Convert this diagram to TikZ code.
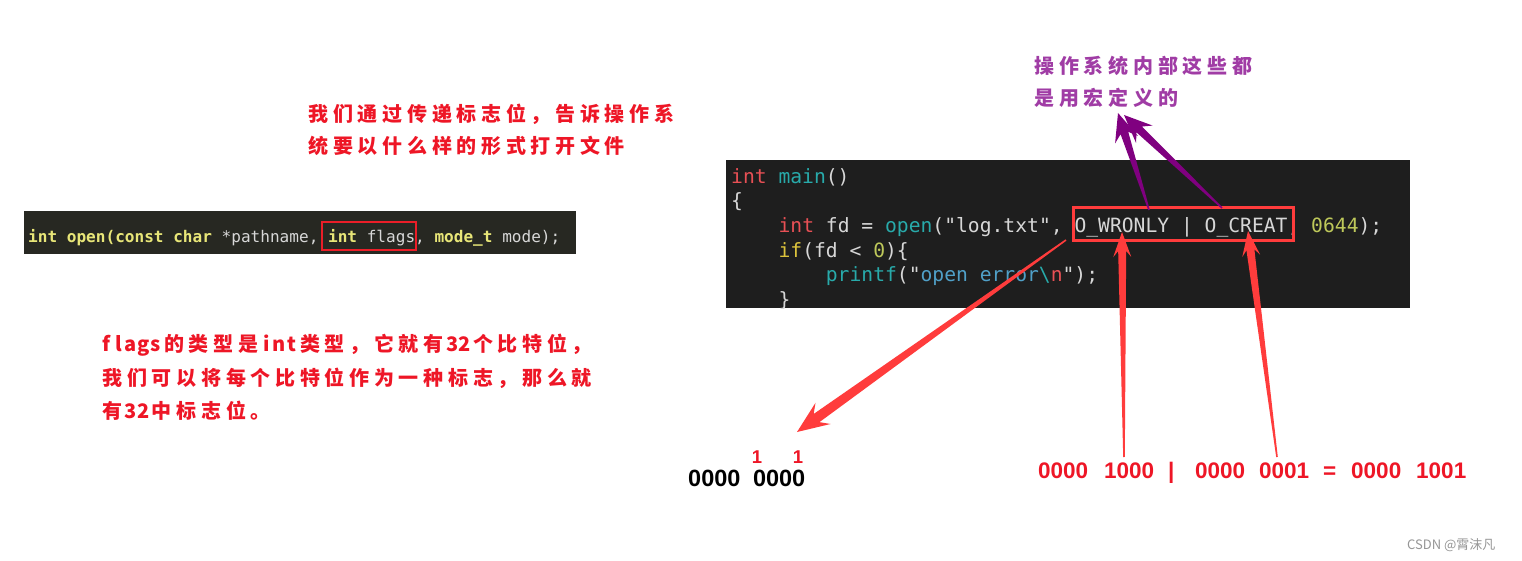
\documentclass[tikz,border=0pt]{standalone}
\usepackage{fontspec}
\usetikzlibrary{calc}
\newfontfamily\cjk{Noto Sans CJK SC}
\newfontfamily\codefont{DejaVu Sans Mono}
\newfontfamily\arialfont{Liberation Sans}
\definecolor{txtred}{RGB}{238,22,38}
\definecolor{txtpurple}{RGB}{160,60,165}
\definecolor{arrred}{RGB}{255,60,60}
\definecolor{arrpurple}{RGB}{128,0,128}
\definecolor{boxred}{RGB}{235,30,40}
\definecolor{bgleft}{RGB}{39,40,34}
\definecolor{bgright}{RGB}{30,30,30}
\definecolor{kwyellow}{RGB}{232,230,120}
\definecolor{cwhite}{RGB}{215,215,215}
\definecolor{cred}{RGB}{232,80,85}
\definecolor{cteal}{RGB}{40,170,170}
\definecolor{cnum}{RGB}{190,200,90}
\definecolor{cif}{RGB}{220,195,60}
\definecolor{cstr}{RGB}{80,160,200}
\newlength\cjkw \setlength\cjkw{24.7pt}
\newlength\latw \setlength\latw{12.35pt}
\makeatletter
\newcommand\spaced[1]{\@tfor\sp@ch:=#1\do{\expandafter\sp@put\sp@ch}}
\def\sp@put#1{\ifnum`#1>255 \makebox[\cjkw][c]{#1}\else\makebox[\latw][c]{#1}\fi}
\makeatother
\newcommand\kw[1]{\textcolor{kwyellow}{\bfseries #1}}
\newcommand\cc[2]{\textcolor{#1}{#2}}
% tapered arrow: start, tip, colour, shaft half width, barb distance, joint distance, barb half width
\newcommand\tarrow[7]{%
  \path ($(#2)!#5!(#1)$) coordinate (ta-b) ($(#2)!#6!(#1)$) coordinate (ta-h);
  \fill[#3] ($(#1)!0.8pt!90:(#2)$) -- ($(ta-h)!#4!-90:(#1)$) -- ($(ta-b)!#7!-90:(#1)$)
    -- (#2) -- ($(ta-b)!#7!90:(#1)$) -- ($(ta-h)!#4!90:(#1)$) -- ($(#1)!0.8pt!-90:(#2)$) -- cycle;}
\tikzset{
  cjktxt/.style={anchor=west, inner sep=0pt, font=\cjk\bfseries\fontsize{20}{20}\selectfont},
  codeleft/.style={anchor=base west, inner sep=0pt, text=cwhite, font=\codefont\fontsize{16.07}{16}\selectfont},
  coderight/.style={anchor=base west, inner sep=0pt, text=cwhite, font=\codefont\fontsize{19.66}{20}\selectfont},
  redbox/.style={draw=boxred, line width=2.5pt},
  eqn/.style={anchor=base west, inner sep=0pt, text=txtred, font=\arialfont\bfseries\fontsize{22.5}{22}\selectfont},
  onebit/.style={anchor=base, inner sep=0pt, text=txtred, font=\arialfont\bfseries\fontsize{18.5}{18}\selectfont},
}
\begin{document}
\begin{tikzpicture}[x=1pt,y=-1pt]
\useasboundingbox[fill=white] (0,0) rectangle (1522,561);
% top red note
\node[cjktxt, text=txtred] (n1a) at (306,114) {\spaced{我们通过传递标志位，告诉操作系}};
\node[cjktxt, text=txtred] (n1b) at (306,146) {\spaced{统要以什么样的形式打开文件}};
% left code
\fill[bgleft] (24,211) rectangle (576,254);
\node[codeleft] (lcode) at (28,243) {\kw{int open(const char} *pathname, \kw{int} flags, \kw{mode\_t} mode);};
\draw[redbox] (322,222) rectangle (416,250);
% left red note
\node[cjktxt, text=txtred] (n2a) at (100,345) {\spaced{flags的类型是int类型，它就有32个比特位，}};
\node[cjktxt, text=txtred] (n2b) at (100,378) {\spaced{我们可以将每个比特位作为一种标志，那么就}};
\node[cjktxt, text=txtred] (n2c) at (100,411) {\spaced{有32中标志位。}};
% purple note
\node[cjktxt, text=txtpurple] (n3a) at (1032,66) {\spaced{操作系统内部这些都}};
\node[cjktxt, text=txtpurple] (n3b) at (1032,98) {\spaced{是用宏定义的}};
% right code
\fill[bgright] (726,160) rectangle (1410,308);
\begin{scope}
\clip (726,160) rectangle (1410,308);
\node[coderight] (r1) at (731,183.5) {\cc{cred}{int} \cc{cteal}{main}()};
\node[coderight] (r2) at (731,208) {\{};
\node[coderight] (r3) at (778.4,232.6) {\cc{cred}{int} fd = \cc{cteal}{open}("log.txt", O\_WRONLY | O\_CREAT, \cc{cnum}{0644});};
\node[coderight] (r4) at (778.4,257.2) {\cc{cif}{if}(fd < \cc{cnum}{0})\{};
\node[coderight] (r5) at (825.7,281.8) {\cc{cteal}{printf}("\cc{cstr}{open error}\cc{cteal}{\textbackslash}\cc{cred}{n}");};
\node[coderight] (r6) at (778.4,306.4) {\}};
\end{scope}
\draw[draw=arrred, line width=3pt] (1073,208) rectangle (1293,241);
% purple arrows
\coordinate (pa1s) at (1149,210);
\coordinate (pa2s) at (1222,208);
\coordinate (pt1) at (1118,113);
\coordinate (pt2) at (1124,115);
\tarrow{pa1s}{pt1}{arrpurple}{4pt}{28pt}{21pt}{12pt}
\tarrow{pa2s}{pt2}{arrpurple}{4pt}{28pt}{21pt}{12pt}
% red arrows
\coordinate (ra1s) at (1066,240);
\coordinate (ra1t) at (797,432);
\coordinate (ra2s) at (1124,457);
\coordinate (ra2t) at (1122,232);
\coordinate (ra3s) at (1277,457);
\coordinate (ra3t) at (1248,231);
\tarrow{ra1s}{ra1t}{arrred}{5pt}{32pt}{24pt}{13pt}
\tarrow{ra2s}{ra2t}{arrred}{4pt}{25pt}{19pt}{9pt}
\tarrow{ra3s}{ra3t}{arrred}{4pt}{25pt}{19pt}{9pt}
% bottom left bits
\node[anchor=base west, inner sep=0pt, font=\arialfont\bfseries\fontsize{23.5}{24}\selectfont] (bits) at (688,486) {0000\hspace{6pt} 0000};
\node[onebit] (one1) at (757,463.5) {1};
\node[onebit] (one2) at (798,463.5) {1};
% equation
\node[eqn] (e1) at (1038,478) {0000};
\node[eqn] (e2) at (1104,478) {1000};
\node[eqn] (e3) at (1168,478) {|};
\node[eqn] (e4) at (1195,478) {0000};
\node[eqn] (e5) at (1259,478) {0001};
\node[eqn] (e6) at (1323,478) {=};
\node[eqn] (e7) at (1351,478) {0000};
\node[eqn] (e8) at (1416,478) {1001};
% watermark
\node[anchor=west, inner sep=0pt, text={rgb,255:red,150;green,150;blue,150}, font=\cjk\fontsize{13}{13}\selectfont] (wm) at (1407,545) {CSDN @霄沫凡};
\end{tikzpicture}
\end{document}
